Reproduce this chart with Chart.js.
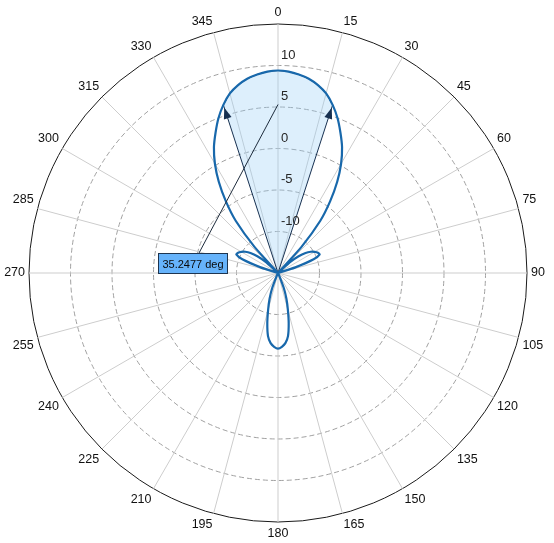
<!DOCTYPE html>
<html>
<head>
<meta charset="utf-8">
<script src="https://cdn.jsdelivr.net/npm/chart.js@4.4.1/dist/chart.umd.min.js"></script>
<style>
  html, body { margin: 0; padding: 0; background: #fff; }
  #wrap { width: 554px; height: 543px; }
</style>
</head>
<body>
<div id="wrap"><canvas id="polarChart"></canvas></div>
<script>
// azimuth samples, degrees clockwise from the top (3 deg apart)
const angles = Array.from({ length: 120 }, (_, i) => i * 3);
const angleTickStep = 15;

// pattern, dB. Anything at or below -15 sits in the centre
const patternDb = [
  // 0 .. 42
  9.4, 9.3, 9.05, 8.7, 8.15, 7.4, 6.3, 5.0, 3.5, 2.0, 0.2, -1.9, -4.3, -6.9, -10.8,
  // 45 .. 87
  -15, -13.0, -11.8, -10.9, -10.3, -9.9, -9.6, -9.5, -10.4, -12.8, -15, -15, -15, -15, -15,
  // 90 .. 132
  -15, -15, -15, -15, -15, -15, -15, -15, -15, -15, -15, -15, -15, -15, -15,
  // 135 .. 177
  -15, -15, -15, -15, -15, -15, -15, -14.6, -13.0, -11.7, -10.4, -8.8, -7.3, -6.5, -6.1,
  // 180 .. 222
  -5.9, -6.1, -6.5, -7.3, -8.8, -10.4, -11.7, -13.0, -14.6, -15, -15, -15, -15, -15, -15,
  // 225 .. 267
  -15, -15, -15, -15, -15, -15, -15, -15, -15, -15, -15, -15, -15, -15, -15,
  // 270 .. 312
  -15, -15, -15, -15, -15, -15, -12.8, -10.4, -9.5, -9.6, -9.9, -10.3, -10.9, -11.8, -13.0,
  // 315 .. 357
  -15, -10.8, -6.9, -4.3, -1.9, 0.2, 2.0, 3.5, 5.0, 6.3, 7.4, 8.15, 8.7, 9.05, 9.3
];

const radialTicks = [-10, -5, 0, 5, 10];
const rMin = -15;
const rMax = 15;
const beamwidthDeg = 35.2477;
const beamLabel = beamwidthDeg + ' deg';
const labelTipDb = 5.3;   // leader line of the label ends here on the 0 deg axis

// shaded sector: the pattern inside the beamwidth, the centre outside it
const halfBeam = beamwidthDeg / 2;
const inBeam = angles.map(a => Math.abs(a > 180 ? a - 360 : a) <= halfBeam + 0.5);
const beamFill = patternDb.map((v, i) => inBeam[i] ? v : rMin);
const beamEdges = inBeam
  .map((b, i) => (b && (!inBeam[(i + 1) % angles.length] || !inBeam[(i + angles.length - 1) % angles.length])) ? i : -1)
  .filter(i => i >= 0);

const FONT = '"Liberation Sans", Arial, Helvetica, sans-serif';

// tick labels, arrow heads and the beamwidth label
const polarExtras = {
  id: 'polarExtras',
  afterDatasetsDraw(chart) {
    const r = chart.scales.r;
    const ctx = chart.ctx;
    ctx.save();

    // arrow heads at the ends of the beamwidth lines
    ctx.fillStyle = '#173050';
    beamEdges.forEach(i => {
      const tip = r.getPointPositionForValue(i, patternDb[i] - 0.35);
      const base = r.getPointPositionForValue(i, patternDb[i] - 1.7);
      const dx = tip.x - base.x, dy = tip.y - base.y;
      const len = Math.hypot(dx, dy) || 1;
      const nx = -dy / len * 4, ny = dx / len * 4;
      ctx.beginPath();
      ctx.moveTo(tip.x, tip.y);
      ctx.lineTo(base.x + nx, base.y + ny);
      ctx.lineTo(base.x - nx, base.y - ny);
      ctx.closePath();
      ctx.fill();
    });

    // radial tick labels, just right of the 0 deg line
    ctx.font = '13px ' + FONT;
    ctx.fillStyle = '#262626';
    ctx.textAlign = 'left';
    ctx.textBaseline = 'alphabetic';
    radialTicks.forEach(v => {
      const d = r.getDistanceFromCenterForValue(v);
      ctx.fillText(String(v), r.xCenter + 3, r.yCenter - d - 7);
    });

    // beamwidth label with leader line
    const bx = r.xCenter - 120, by = r.yCenter - 20, bw = 70, bh = 21;
    const end = r.getPointPositionForValue(0, labelTipDb);
    ctx.strokeStyle = '#1d2b3c';
    ctx.lineWidth = 1;
    ctx.beginPath();
    ctx.moveTo(bx + 41, by);
    ctx.lineTo(end.x, end.y);
    ctx.stroke();

    ctx.fillStyle = '#66b3fb';
    ctx.fillRect(bx, by, bw, bh);
    ctx.strokeStyle = '#1e3550';
    ctx.strokeRect(bx + 0.5, by + 0.5, bw - 1, bh - 1);
    ctx.fillStyle = '#0a0a0a';
    ctx.font = '11px ' + FONT;
    ctx.textAlign = 'center';
    ctx.textBaseline = 'middle';
    ctx.fillText(beamLabel, bx + bw / 2, by + bh / 2 + 1);

    ctx.restore();
  }
};

new Chart(document.getElementById('polarChart'), {
  type: 'radar',
  data: {
    labels: angles,
    datasets: [
      {
        label: 'Pattern',
        data: patternDb,
        borderColor: '#1868ab',
        borderWidth: 2.2,
        pointRadius: 0,
        fill: false,
        tension: 0.2
      },
      {
        label: 'Beamwidth',
        data: beamFill,
        borderColor: '#173050',
        borderWidth: 1,
        backgroundColor: 'rgba(150, 205, 245, 0.32)',
        fill: 'start',
        pointRadius: 0,
        tension: 0
      }
    ]
  },
  options: {
    responsive: true,
    maintainAspectRatio: false,
    animation: false,
    layout: { padding: { top: 5, bottom: 2, left: 0, right: 3 } },
    plugins: {
      legend: { display: false },
      tooltip: { enabled: false }
    },
    scales: {
      r: {
        min: rMin,
        max: rMax,
        ticks: { display: false, stepSize: 5 },
        grid: {
          circular: true,
          color: c => c.tick.value === rMax ? '#1a1a1a' : '#a0a0a0',
          lineWidth: 1
        },
        border: {
          dash: c => c.tick.value === rMax ? [] : [5, 3]
        },
        angleLines: {
          color: '#cdcdcd',
          lineWidth: c => c.index % (angleTickStep / 3) === 0 ? 1 : 0
        },
        pointLabels: {
          padding: 4,
          color: '#111',
          font: { size: 12.5, family: FONT },
          callback: (lbl) => lbl % angleTickStep === 0 ? String(lbl) : ''
        }
      }
    }
  },
  plugins: [polarExtras]
});
</script>
</body>
</html>
